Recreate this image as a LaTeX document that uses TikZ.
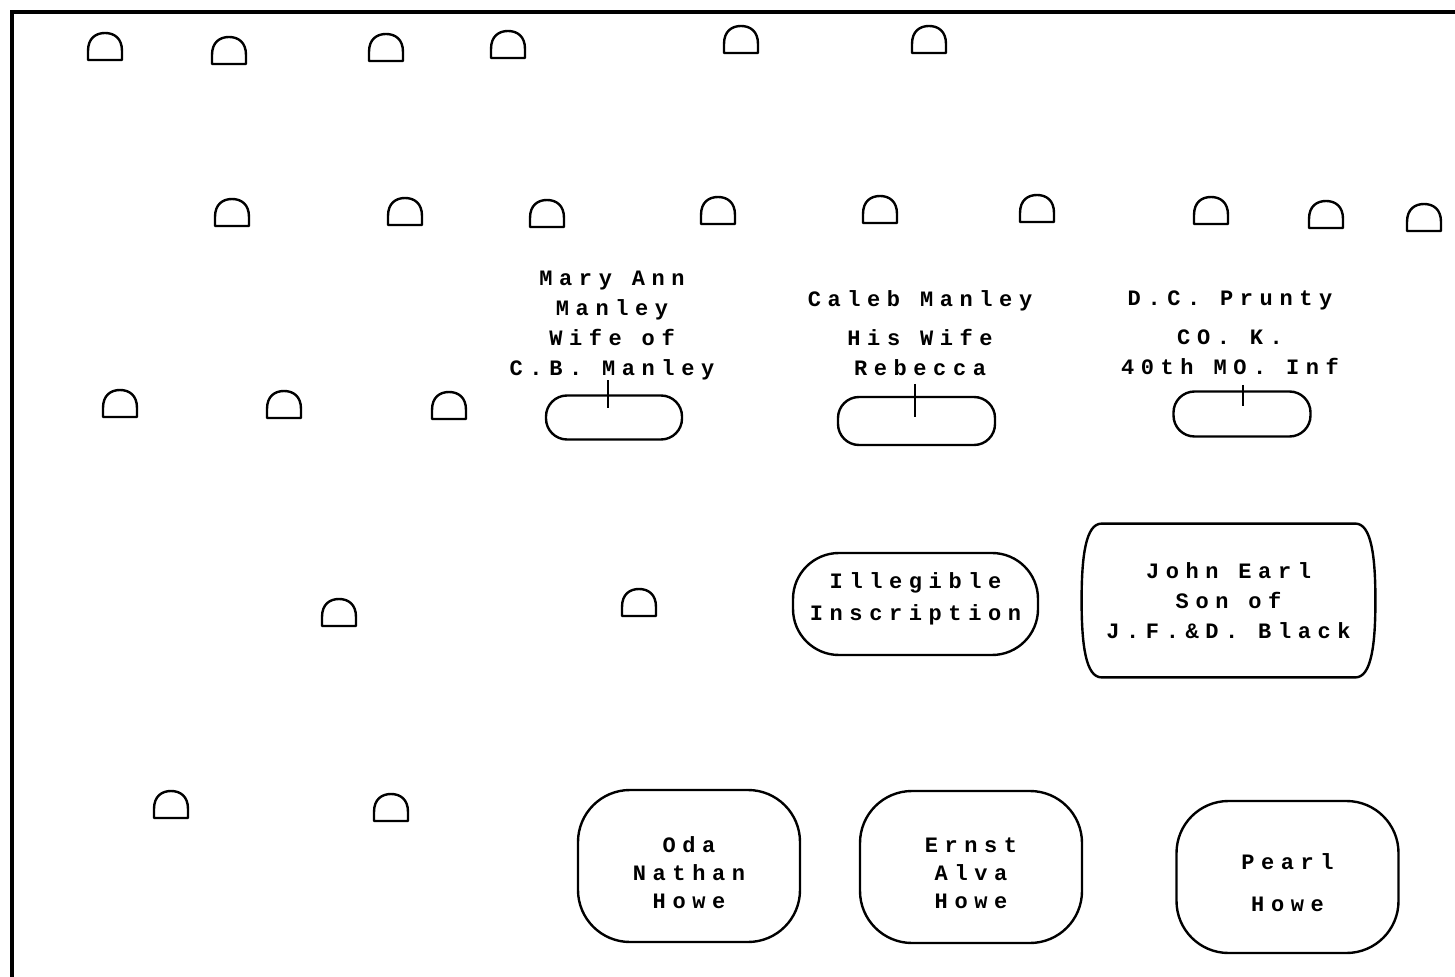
\documentclass[tikz,border=0pt]{standalone}
\usepackage{fontspec}
\usepackage{tikz}
\newfontfamily\typeface[LetterSpace=30]{Liberation Mono}

\begin{document}
\begin{tikzpicture}[x=0.5pt,y=-0.5pt,
  inscr/.style={align=center,font={\typeface\bfseries\fontsize{11}{15}\selectfont}},
  footstone/.style={draw,line width=1.2pt,rounded corners=10.5pt,inner sep=0pt},
  gravebox/.style={draw,line width=1.2pt,rounded corners=26pt,minimum width=111pt,minimum height=76pt},
  headstone/.pic={\draw[line width=1.2pt,line join=round] (-17,0) -- (-17,-9) .. controls (-17,-22) and (-9,-27) .. (0,-27) .. controls (9,-27) and (17,-22) .. (17,-9) -- (17,0) -- cycle;}]
\useasboundingbox (0,0) rectangle (1455,977);
\draw[line width=2pt] (1455,12) -- (12,12) -- (12,977);
\foreach \x/\y in {105/60,229/64,386/61,508/58,741/53,929/53,
  232/226,405/225,547/227,718/224,880/223,1037/222,1211/224,1326/228,1424/231,
  120/417,284/418,449/419,339/626,639/616,171/818,391/821}
  \pic at (\x,\y) {headstone};
\node[inscr] (marytext) at (612,326) {Mary Ann\\Manley\\Wife of\\C.B. Manley};
\node[inscr] (calebtext) at (920,333) {Caleb Manley\\[4.5pt]His Wife\\Rebecca};
\node[inscr] (pruntytext) at (1230,333) {D.C. Prunty\\[4.5pt]CO. K.\\40th MO. Inf};
\node[footstone,minimum width=68pt,minimum height=22pt] (maryfoot) at (614,417.5) {};
\node[footstone,minimum width=78.5pt,minimum height=24pt] (calebfoot) at (916.5,421) {};
\node[footstone,minimum width=68.5pt,minimum height=22.5pt] (pruntyfoot) at (1242,414) {};
\draw[line width=1.2pt] ([xshift=-3pt,yshift=7pt]maryfoot.north) -- ([xshift=-3pt,yshift=-7pt]maryfoot.north);
\draw[line width=1.2pt] ([xshift=-0.75pt,yshift=6pt]calebfoot.north) -- ([xshift=-0.75pt,yshift=-10.5pt]calebfoot.north);
\draw[line width=1.2pt] ([xshift=0.5pt,yshift=2.75pt]pruntyfoot.north) -- ([xshift=0.5pt,yshift=-7.75pt]pruntyfoot.north);
\node[draw,line width=1.2pt,rounded corners=23pt,minimum width=122.5pt,minimum height=51pt] (illegible) at (915.5,604) {};
\node[inscr] (illegibletext) at ([yshift=2.5pt]illegible.center) {Illegible\\[1pt]Inscription};
\node[inscr,minimum width=146.5pt,minimum height=76.5pt] (johnearl) at (1228.5,600.5) {John Earl\\Son of\\J.F.\&D. Black};
\draw[line width=1.2pt] ([xshift=10pt]johnearl.north west) -- ([xshift=-10pt]johnearl.north east)
  .. controls ([xshift=-2pt]johnearl.north east) and ([yshift=22pt]johnearl.east) .. (johnearl.east)
  .. controls ([yshift=-22pt]johnearl.east) and ([xshift=-2pt]johnearl.south east) .. ([xshift=-10pt]johnearl.south east)
  -- ([xshift=10pt]johnearl.south west)
  .. controls ([xshift=2pt]johnearl.south west) and ([yshift=-22pt]johnearl.west) .. (johnearl.west)
  .. controls ([yshift=22pt]johnearl.west) and ([xshift=2pt]johnearl.north west) .. cycle;
\node[gravebox] (oda) at (689,866) {};
\node[inscr] (odatext) at ([yshift=-3.5pt]oda.center) {Oda\\[-1pt]Nathan\\[-1pt]Howe};
\node[gravebox] (ernst) at (971,867) {};
\node[inscr] (ernsttext) at ([yshift=-3pt]ernst.center) {Ernst\\[-1pt]Alva\\[-1pt]Howe};
\node[gravebox] (pearl) at (1287.5,877) {};
\node[inscr] (pearltext) at ([yshift=-3pt]pearl.center) {Pearl\\[6pt]Howe};
\end{tikzpicture}
\end{document}
